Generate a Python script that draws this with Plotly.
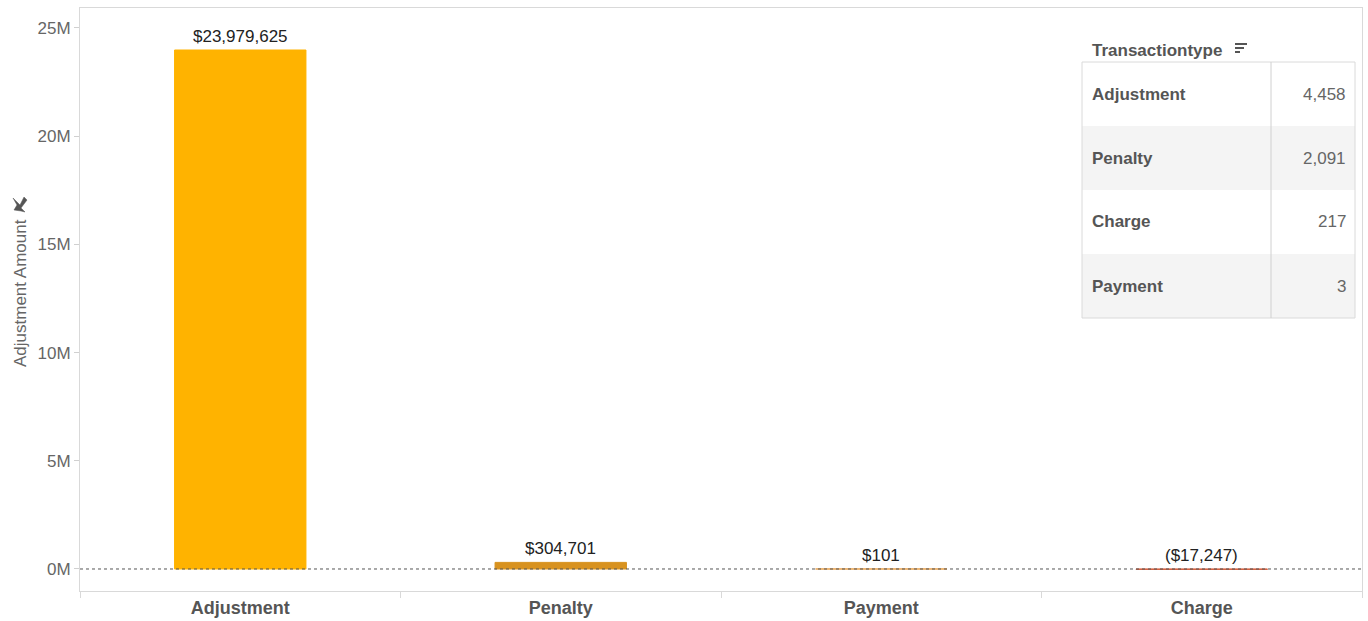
import plotly.graph_objects as go

# Bar chart data
categories = ["Adjustment", "Penalty", "Payment", "Charge"]
amounts = [23979625, 304701, 101, -17247]
amount_labels = ["$23,979,625", "$304,701", "$101", "($17,247)"]
bar_colors = ["#FFB300", "#D8921F", "#E8A04A", "#D25B3A"]

# Side table data
table_types = ["Adjustment", "Penalty", "Charge", "Payment"]
table_counts = ["4,458", "2,091", "217", "3"]

y_tickvals = [0, 5e6, 10e6, 15e6, 20e6, 25e6]
y_ticktext = ["0M", "5M", "10M", "15M", "20M", "25M"]

W, H = 1368, 621
L, R, T, B = 80, 6, 8, 30
PW, PH = W - L - R, H - T - B


def px(x):
    return (x - L) / PW


def py(y):
    return (H - B - y) / PH


FONT = "Liberation Sans, Arial, sans-serif"

fig = go.Figure()
fig.add_trace(go.Bar(
    x=categories, y=amounts, width=0.41,
    marker=dict(color=bar_colors, line=dict(color=bar_colors, width=1)),
    hoverinfo="skip", showlegend=False,
))

annotations = []
for c, v, t in zip(categories, amounts, amount_labels):
    annotations.append(dict(
        x=c, y=max(v, 0), xref="x", yref="y", text=t, showarrow=False,
        xanchor="center", yanchor="bottom", yshift=2,
        font=dict(family=FONT, size=17, color="#222")))

# Y axis title with a small pin marker above it
annotations.append(dict(
    x=px(20), y=py(293), xref="paper", yref="paper", text="Adjustment Amount",
    textangle=-90, showarrow=False, xanchor="center", yanchor="middle",
    font=dict(family=FONT, size=17, color="#666")))

shapes = [
    # dotted zero line
    dict(type="line", xref="paper", yref="y", x0=0, x1=1, y0=0, y1=0,
         line=dict(color="#555", width=1, dash="dot")),
]

# pin glyph (drawn in pixel space converted to paper)
pin_pts = [(13, 198), (20, 205), (24, 197), (27, 200), (21, 208), (25, 212), (21, 211), (14, 210), (17, 205)]
pin_path = "M " + " L ".join(f"{px(a):.5f},{py(b):.5f}" for a, b in pin_pts) + " Z"
shapes.append(dict(type="path", xref="paper", yref="paper", path=pin_path,
                   fillcolor="#555", line=dict(color="#555", width=0.5)))

# Side table: frame, shaded rows, column divider
tx0, tx1, tdiv, ttop, trow = 1082, 1355, 1271, 62, 64
for i in range(len(table_types)):
    if i % 2 == 1:
        shapes.append(dict(type="rect", xref="paper", yref="paper",
                           x0=px(tx0), x1=px(tx1), y0=py(ttop + i * trow), y1=py(ttop + (i + 1) * trow),
                           fillcolor="#F4F4F4", line=dict(width=0), layer="below"))
shapes.append(dict(type="rect", xref="paper", yref="paper",
                   x0=px(tx0), x1=px(tx1), y0=py(ttop), y1=py(ttop + 4 * trow),
                   line=dict(color="#DADADA", width=1)))
shapes.append(dict(type="line", xref="paper", yref="paper",
                   x0=px(tdiv), x1=px(tdiv), y0=py(ttop), y1=py(ttop + 4 * trow),
                   line=dict(color="#D0D0D0", width=1)))

# Sort icon next to the table header
for k, ln in enumerate([12, 9, 5]):
    yy = 44 + k * 4
    shapes.append(dict(type="line", xref="paper", yref="paper",
                       x0=px(1235), x1=px(1235 + ln), y0=py(yy), y1=py(yy),
                       line=dict(color="#555", width=2)))

annotations.append(dict(
    x=px(1090), y=py(51), xref="paper", yref="paper", text="<b>Transactiontype</b>",
    xanchor="left", yanchor="middle", showarrow=False,
    font=dict(family=FONT, size=17, color="#555")))
for i, (name, cnt) in enumerate(zip(table_types, table_counts)):
    yc = ttop + i * trow + trow / 2
    annotations.append(dict(
        x=px(1090), y=py(yc), xref="paper", yref="paper", text=f"<b>{name}</b>",
        xanchor="left", yanchor="middle", showarrow=False,
        font=dict(family=FONT, size=17, color="#555")))
    annotations.append(dict(
        x=px(1348), y=py(yc), xref="paper", yref="paper", text=cnt,
        xanchor="right", yanchor="middle", showarrow=False,
        font=dict(family=FONT, size=17, color="#666")))

fig.update_layout(
    width=W, height=H,
    margin=dict(l=L, r=R, t=T, b=B),
    paper_bgcolor="white", plot_bgcolor="white",
    xaxis=dict(
        type="category", range=[-0.5, 3.5], showgrid=False, automargin=False,
        showline=True, linecolor="#D9D9D9", mirror=True,
        ticks="outside", tickson="boundaries", ticklen=6, tickcolor="#D9D9D9",
        tickfont=dict(family=FONT, size=18, color="#555"),
        tickprefix="<b>", ticksuffix="</b>",
    ),
    yaxis=dict(
        range=[-1.017e6, 25.92e6], showgrid=False, zeroline=False, automargin=False,
        showline=True, linecolor="#D9D9D9", mirror=True,
        tickvals=y_tickvals, ticktext=y_ticktext,
        ticks="outside", ticklen=5, tickcolor="#D0D0D0",
        tickfont=dict(family=FONT, size=17, color="#666"),
    ),
    shapes=shapes,
    annotations=annotations,
)

fig.write_html("out.html")
